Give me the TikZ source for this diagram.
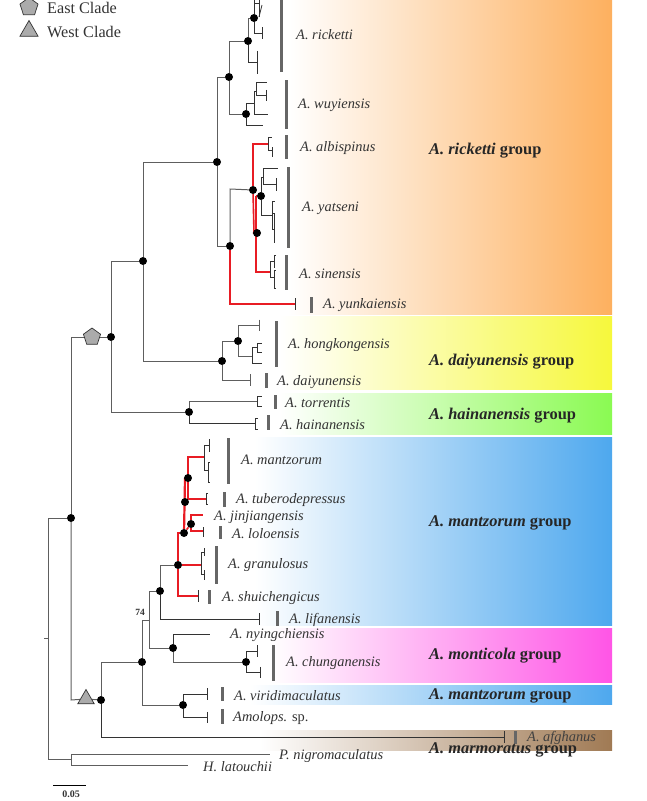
\documentclass[tikz,border=0pt]{standalone}
\usepackage{fontspec}
\setmainfont{Liberation Serif}
\usetikzlibrary{arrows.meta,shapes.geometric}
\pgfdeclarelayer{shadelayer}
\pgfdeclarelayer{treelayer}
\pgfsetlayers{shadelayer,treelayer,main}
\definecolor{brgray}{HTML}{5E5E5E}
\definecolor{brdark}{HTML}{333333}
\definecolor{brred}{HTML}{E81C24}
\definecolor{barc}{HTML}{666666}
\definecolor{txtc}{HTML}{333333}
\definecolor{gorange}{HTML}{FDB05F}
\definecolor{gyellow}{HTML}{F6F83C}
\definecolor{ggreen}{HTML}{8AFA52}
\definecolor{gblue}{HTML}{4EA8EE}
\definecolor{gmag}{HTML}{FF55E6}
\definecolor{gbrown}{HTML}{A07A54}
\tikzset{
  x=1pt,y=-1pt,
  dot/.style={circle,fill=black,inner sep=0pt,minimum size=8pt},
  bb/.style={draw=brgray,line width=1pt},
  tn/.style={draw=brdark,line width=.75pt},
  rd/.style={draw=brred,line width=1.6pt},
  tk/.style={-{Bar[width=#1,length=0.8pt]}},
  tk/.default=11pt,
  sp/.style={anchor=west,inner sep=0pt,text=txtc,font=\fontsize{14.4}{16}\selectfont\itshape},
  grp/.style={anchor=west,inner sep=0pt,text=black!85,font=\fontsize{16.4}{19}\selectfont\bfseries},
  barl/.style={draw=barc,line width=3pt},
  leg/.style={anchor=west,inner sep=0pt,text=txtc,font=\fontsize{16.2}{18}\selectfont},
  mk/.style={draw=brdark,fill=black!33,line width=.7pt,inner sep=0pt},
}
\newcommand\nd[3]{\node[dot] (#1) at (#2,#3) {};}
\newcommand\co[3]{\coordinate (#1) at (#2,#3);}
\newcommand\vb[3]{\draw[barl] (#1,#2) -- (#1,#3);}
\begin{document}
\begin{tikzpicture}
\useasboundingbox (0,0) rectangle (646,801);
\begin{pgfonlayer}{shadelayer}
\fill[white] (0,0) rectangle (646,801);
% group backgrounds
\shade[left color=white,right color=gorange] (288,0) rectangle (612,314);
\shade[left color=white,right color=gyellow] (280,316) rectangle (612,389);
\shade[left color=white,right color=ggreen] (280,393) rectangle (612,434);
\shade[left color=white,right color=gblue] (255,437) rectangle (612,625);
\shade[left color=white,right color=gmag] (270,628) rectangle (612,682);
\shade[left color=white,right color=gblue] (250,685) rectangle (612,704);
\shade[left color=white,right color=gbrown] (260,730) rectangle (612,750);
\end{pgfonlayer}

% internal nodes
\nd{dE}{111}{337}
\nd{dA}{143}{261}
\nd{dB}{217}{162}
\nd{dC}{229}{77}
\nd{dD}{248}{41}
\nd{dF}{254}{18}
\nd{dG}{246}{114}
\nd{dH}{230}{246}
\nd{dI}{253}{190}
\nd{dJ}{261}{196}
\nd{dK}{257}{233}
\nd{dL}{222}{361}
\nd{dM}{238}{341}
\nd{dN}{189}{412}
\nd{dR}{71}{518}
\nd{dW}{101}{700}
\nd{dP}{142}{662}
\nd{dQ}{160}{591}
\nd{dS}{178}{565}
\nd{dT}{184}{533}
\nd{dU}{185}{502}
\nd{dV}{188}{478}
\nd{dX}{191}{524}
\nd{dY}{173}{648}
\nd{dZ}{246}{662}
\nd{dAA}{183}{705}
\node[mk,regular polygon,regular polygon sides=5,minimum size=18pt] (pE) at (92,337) {};
\node[mk,regular polygon,regular polygon sides=3,minimum size=19pt] (tW) at (86,699) {};
\node[mk,regular polygon,regular polygon sides=5,minimum size=19pt] (lE) at (29,7) {};
\node[mk,regular polygon,regular polygon sides=3,minimum size=21pt] (lW) at (29,31) {};

\begin{pgfonlayer}{treelayer}
% root
\co{rS}{44}{638}\co{r0}{48}{638}\co{rT}{48}{518}\co{rB}{48}{759}\co{oN}{71}{759}
\co{pn}{270}{754}\co{hl}{188}{765}
\draw[bb] (rS) -- (r0);
\draw[bb] (rT) -- (rB) -- (oN);
\draw[bb] (rT) -- (dR);
\draw[bb] (oN) |- (pn);
\draw[bb] (oN) |- (hl);
\co{eC}{71}{337}\co{wC}{71}{700}
\draw[bb] (dR) -- (eC) -- (pE);
\draw[bb] (pE) -- (dE);
\draw[bb] (dR) -- (wC) -- (tW);
\draw[bb] (tW) -- (dW);
% east clade
\draw[bb] (dE) |- (dA);
\draw[bb] (dE) |- (dN);
\draw[bb] (dA) |- (dB);
\draw[bb] (dA) |- (dL);
\draw[bb] (dB) |- (dC);
\draw[bb] (dB) |- (dH);
\draw[bb] (dC) |- (dD);
\draw[bb] (dC) |- (dG);
\draw[bb] (dD) |- (dF);
% ricketti tips
\co{a1}{258}{62}\draw[tn,tk=23pt] (dD) |- (a1);
\co{a2}{263}{33}\draw[tn,tk=12pt] (dF) |- (a2);
\co{a3}{254}{0}\co{a4}{259}{3}\co{a5}{259}{17}
\draw[tn] (dF) -- (a3);\draw[tn] (a3) |- (a4);\draw[tn] (259,-2) -- (a5);
\draw[tn] (a5) -- (262,5);
% wuyiensis
\co{b1}{263}{125}\draw[tn] (dG) |- (b1);
\co{b2}{254}{103}\draw[tn] (dG) |- (b2);
\co{b3}{268}{114}\draw[tn] (b2) |- (b3);
\co{b4}{256}{91}\draw[tn] (b2) |- (b4);
\co{b5}{267}{82}\draw[tn] (b4) |- (b5);
\co{b6}{267}{95}\draw[tn,tk=11pt] (b4) |- (b6);
% albispinus
\co{c1}{268}{144}\draw[rd] (dI) |- (c1);
\co{c2}{272}{137}\draw[tn] (c1) |- (c2);
\co{c3}{272}{150}\draw[tn] (c1) |- (c3);\draw[tn] (272,147) -- (272,157);
% red links
\draw[bb] (dH) -- (230,189) -- (dI);
\co{c4}{295}{304}\draw[rd] (dH) |- (c4);
\draw[tn] (295,298) -- (295,310);
\draw[rd] (dI) -- (254,233) -- (dK);
\co{c5}{270}{272}\draw[rd] (256,196) |- (c5);
\draw[rd] (256,196) -- (dJ);
% yatseni
\co{y1}{263}{177}\draw[tn] (dJ) |- (y1);
\co{y2}{278}{168}\draw[tn] (y1) |- (y2);
\co{y3}{276}{184}\draw[tn] (y1) |- (y3);\draw[tn] (276,178) -- (276,191);
\co{y4}{272}{215}\draw[tn] (dJ) |- (y4);
\draw[tn] (272,201) -- (272,229);
\draw[tn] (272,201) -- (275,201);
\draw[tn] (272,213) -- (275,213);
\draw[tn] (274,213) -- (274,243);
\draw[tn] (272,229) -- (274,229);
% sinensis
\draw[tn] (c5) -- (270,261);\draw[tn] (c5) -- (270,277);
\draw[tn] (270,261) -- (274,261);\draw[tn] (274,255) -- (274,268);
\draw[tn] (270,277) -- (274,277);\draw[tn] (274,270) -- (274,288);
\draw[tn] (274,255) -- (276,255);\draw[tn] (274,288) -- (276,288);
\draw[tn] (274,270) -- (276,270);
% hongkongensis / daiyunensis
\draw[bb] (dL) |- (dM);
\co{d1}{251}{380}\draw[bb,tk=12pt] (dL) |- (d1);
\co{d2}{260}{325}\draw[bb,tk=11pt] (dM) |- (d2);
\co{d3}{252}{356}\draw[bb] (dM) |- (d3);
\co{d4}{257}{347}\draw[tn] (d3) |- (d4);
\co{d5}{262}{363}\draw[tn] (d3) |- (d5);
\draw[tn] (257,343) -- (257,352);\draw[tn] (257,343) -- (262,343);\draw[tn] (257,352) -- (262,352);
% torrentis / hainanensis
\co{e1}{257}{401}\draw[bb] (dN) |- (e1);
\co{e2}{255}{423}\draw[tn] (dN) |- (e2);
\draw[tn] (257,396) -- (257,406);\draw[tn] (257,396) -- (262,396);\draw[tn] (257,406) -- (262,406);
\draw[tn] (255,418) -- (255,429);\draw[tn] (255,418) -- (258,418);\draw[tn] (255,429) -- (258,429);
% west clade
\draw[bb] (dW) |- (dP);
\co{f1}{505}{737}\draw[tn,line width=1pt,tk=12pt] (dW) |- (f1);
\co{f2}{149}{620}\draw[bb] (dP) |- (f2);
\draw[bb] (dP) |- (dAA);
\co{f3}{149}{591}\draw[bb] (f2) -- (f3) -- (dQ);
\draw[bb] (f2) |- (dY);
\co{g1}{210}{634}\draw[tn,line width=1pt] (dY) |- (g1);
\draw[bb] (dY) |- (dZ);
\co{g2}{258}{651}\draw[tn,tk=12pt] (dZ) |- (g2);
\co{g3}{261}{672}\draw[tn,tk=11pt] (dZ) |- (g3);
\co{g4}{208}{694}\draw[tn,tk=12pt] (dAA) |- (g4);
\co{g5}{208}{717}\draw[tn,tk=11pt] (dAA) |- (g5);
\draw[bb] (dQ) |- (dS);
\co{g6}{260}{619}\draw[tn,tk=12pt] (dQ) |- (g6);
% mantzorum complex
\co{h1}{198}{596}\draw[rd] (dS) |- (h1);\draw[tn] (198,590) -- (198,602);
\co{h2}{201}{565}\draw[rd] (dS) -- (h2);
\co{h3}{178}{533}\draw[rd] (dS) -- (h3) -- (dT);
\draw[rd,line width=2.2pt] (dT) -- (185,478);
\draw[rd] (dT) -- (dX);
\co{h4}{203}{515}\draw[rd] (dX) |- (h4);
\co{h5}{203}{531}\draw[rd] (dX) |- (h5);\draw[tn] (203,527) -- (203,537);
\co{h6}{206}{499}\draw[rd] (188,499) -- (h6);\draw[tn] (206,493) -- (206,504);
\draw[tn] (206,493) -- (208,493);\draw[tn] (206,504) -- (208,504);
\co{h7}{204}{457}\draw[rd] (188,499) |- (h7);
% mantzorum tips
\draw[tn] (204,445) -- (204,470);
\draw[tn] (204,445) -- (209,445);\draw[tn] (209,439) -- (209,452);
\draw[tn] (204,470) -- (208,470) ;\draw[tn] (208,462) -- (208,482);
\draw[tn] (208,462) -- (210,462);\draw[tn] (208,482) -- (210,482);
% granulosus tips
\draw[tn] (h2) -- (201,552);\draw[tn] (h2) -- (201,574);
\draw[tn] (201,552) -- (204,552);\draw[tn] (204,548) -- (204,556);
\draw[tn] (201,574) -- (204,574);\draw[tn] (204,570) -- (204,580);

% bars
\vb{281}{0}{72}
\vb{286}{80}{129}
\vb{286}{135}{159}
\vb{288}{167}{248}
\vb{286}{255}{290}
\vb{311}{297}{313}
\vb{276}{321}{367}
\vb{266}{373}{388}
\vb{275}{395}{409}
\vb{268}{415}{430}
\vb{228}{438}{484}
\vb{224}{492}{507}
\vb{220}{526}{539}
\vb{216}{546}{584}
\vb{209}{590}{604}
\vb{277}{611}{626}
\vb{273}{645}{681}
\vb{222}{687}{701}
\vb{222}{709}{724}
\vb{515}{731}{744}
\end{pgfonlayer}

% species labels
\node[sp] (s1) at (296,35) {A. ricketti};
\node[sp] (s2) at (298,105) {A. wuyiensis};
\node[sp] (s3) at (300,148) {A. albispinus};
\node[sp] (s4) at (302,208) {A. yatseni};
\node[sp] (s5) at (299,274) {A. sinensis};
\node[sp] (s6) at (323,305) {A. yunkaiensis};
\node[sp] (s7) at (288,345) {A. hongkongensis};
\node[sp] (s8) at (277,382) {A. daiyunensis};
\node[sp] (s9) at (285,403) {A. torrentis};
\node[sp] (s10) at (280,425) {A. hainanensis};
\node[sp] (s11) at (241,460) {A. mantzorum};
\node[sp] (s12) at (236,500) {A. tuberodepressus};
\node[sp] (s13) at (214,517) {A. jinjiangensis};
\node[sp] (s14) at (232,534) {A. loloensis};
\node[sp] (s15) at (228,565) {A. granulosus};
\node[sp] (s16) at (222,598) {A. shuichengicus};
\node[sp] (s17) at (289,620) {A. lifanensis};
\node[sp] (s18) at (230,635) {A. nyingchiensis};
\node[sp] (s19) at (286,663) {A. chunganensis};
\node[sp] (s20) at (234,696) {A. viridimaculatus};
\node[sp] (s21) at (233,718) {Amolops. \upshape sp.};
\node[sp,text=black!75] (s22) at (527,738) {A. afghanus};
\node[sp] (s23) at (279,756) {P. nigromaculatus};
\node[sp] (s24) at (203,767) {H. latouchii};

% group labels
\node[grp] (g-a) at (429,151) {\itshape A. ricketti \upshape group};
\node[grp] (g-b) at (429,362) {\itshape A. daiyunensis \upshape group};
\node[grp] (g-c) at (429,416) {\itshape A. hainanensis \upshape group};
\node[grp] (g-d) at (429,523) {\itshape A. mantzorum \upshape group};
\node[grp] (g-e) at (429,656) {\itshape A. monticola \upshape group};
\node[grp] (g-f) at (429,696) {\itshape A. mantzorum \upshape group};
\node[grp] (g-g) at (429,750) {\itshape A. marmoratus \upshape group};

% legend
\node[leg] (l1) at (47,8) {East Clade};
\node[leg] (l2) at (47,32) {West Clade};
\node[inner sep=0pt,font=\fontsize{9.5}{10}\selectfont\bfseries,text=txtc] (n74) at (140,612) {74};
\co{sa}{53}{785}\co{sb}{86}{785}
\draw[draw=black,line width=.7pt] (sa) -- (sb);
\node[inner sep=0pt,font=\fontsize{10}{11}\selectfont\bfseries,text=txtc] (sl) at (71,794) {0.05};
\end{tikzpicture}
\end{document}
